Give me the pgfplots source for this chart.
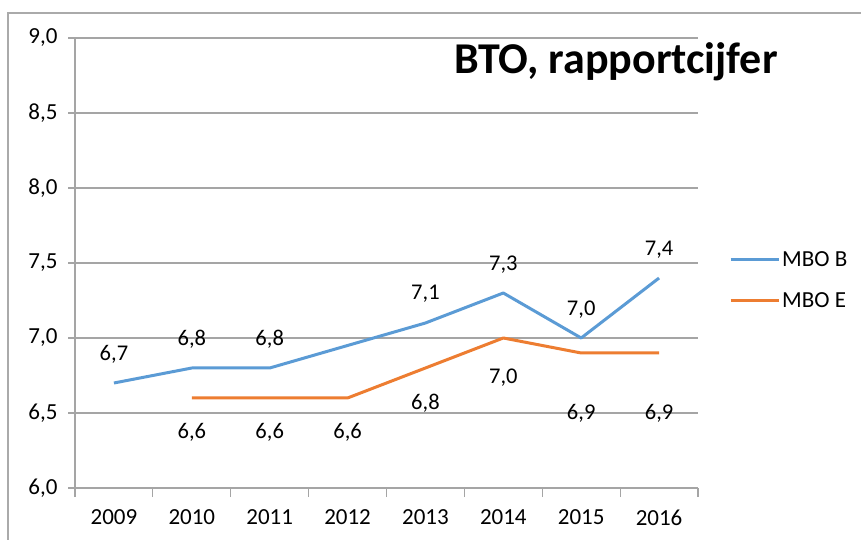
\documentclass[border=0pt]{standalone}
\usepackage{fontspec}
\setmainfont{Carlito}
\usepackage{pgfplots}
\usepackage{pgfplotstable}
\pgfplotsset{compat=1.18}
\definecolor{mboB}{RGB}{91,155,213}
\definecolor{mboE}{RGB}{237,125,49}
\definecolor{gridc}{RGB}{165,165,165}
\definecolor{framec}{RGB}{170,170,170}
\pgfplotstableread{
x y off
0 6.7 29
1 6.8 29
2 6.8 29
3 6.95 0
4 7.1 29
5 7.3 28
6 7.0 28
7 7.4 28
}\tableB
\pgfplotstableread{
x y off
1 6.6 -34
2 6.6 -34
3 6.6 -34
4 6.8 -35
5 7.0 -40
6 6.9 -60
7 6.9 -60
}\tableE
\begin{document}
\begin{tikzpicture}[x=1pt,y=1pt]
\path[use as bounding box] (0,0) rectangle (861,540);
\draw[framec, line width=1.2pt] (8,-5) -- (8,527) -- (870,527);
\node[font=\fontsize{44}{50}\selectfont\bfseries, anchor=center] at (616,478) {BTO, rapportcijfer};
\begin{axis}[
  at={(75pt,52pt)}, anchor=south west,
  scale only axis, width=623pt, height=450pt,
  xmin=-0.5, xmax=7.5, ymin=6, ymax=9,
  axis lines*=left,
  axis line style={-, draw=gridc, line width=1.2pt},
  ytick={6,6.5,...,9},
  ymajorgrids, grid style={draw=gridc, line width=1.2pt},
  tick align=outside,
  major tick length=7pt,
  tick style={draw=gridc, line width=1.2pt},
  xtick={0,...,7},
  xticklabels={2009,2010,2011,2012,2013,2014,2015,2016},
  major x tick style={draw=none},
  extra x ticks={-0.5,0.5,...,7.5},
  extra x tick labels={},
  extra x tick style={grid=none, major tick length=9pt, major x tick style={draw=gridc, line width=1.2pt}},
  ticklabel style={font=\fontsize{23}{27}\selectfont},
  /pgf/number format/assume math mode=true,
  yticklabel style={/pgf/number format/.cd, fixed, fixed zerofill, precision=1, use comma, /tikz/.cd, xshift=-7pt},
  xticklabel style={yshift=-11pt},
  legend style={draw=none, fill=none, at={(axis description cs:1.045,0.462)}, anchor=west,
    font=\fontsize{23}{27}\selectfont, row sep=21pt,
    nodes={inner sep=2pt}},
  legend image code/.code={\draw[#1] (0pt,0pt) -- (48pt,0pt);},
  legend cell align=left,
  every node near coord/.append style={font=\fontsize{22.5}{27}\selectfont, text=black},
  clip=false,
]
\addplot[mboB, line width=3pt, line join=round, no markers,
  visualization depends on={\thisrow{off}\as\myoff},
  nodes near coords={\ifdim\myoff pt=0pt\else\pgfmathprintnumber[fixed,fixed zerofill,precision=1,use comma,assume math mode=true]{\pgfplotspointmeta}\fi},
  every node near coord/.append style={anchor=center, yshift=\myoff pt}]
  table[x=x,y=y] {\tableB};
\addlegendentry{MBO B}
\addplot[mboE, line width=3pt, line join=round, no markers,
  visualization depends on={\thisrow{off}\as\myoff},
  nodes near coords={\pgfmathprintnumber[fixed,fixed zerofill,precision=1,use comma,assume math mode=true]{\pgfplotspointmeta}},
  every node near coord/.append style={anchor=center, yshift=\myoff pt}]
  table[x=x,y=y] {\tableE};
\addlegendentry{MBO E}
\end{axis}
\end{tikzpicture}
\end{document}
